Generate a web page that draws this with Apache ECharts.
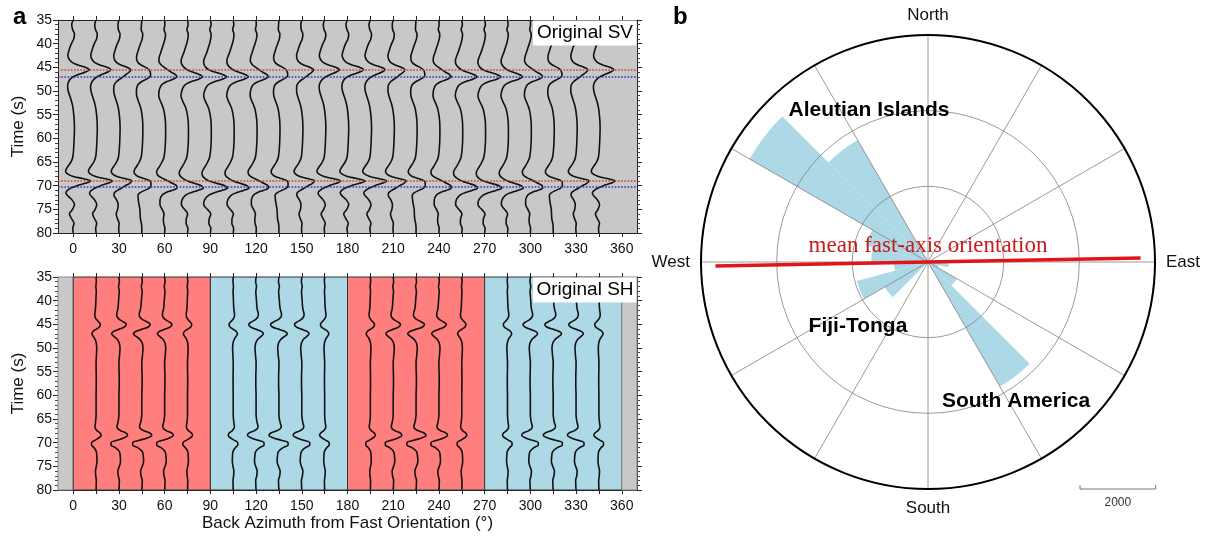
<!DOCTYPE html>
<html>
<head>
<meta charset="utf-8">
<script src="https://cdn.jsdelivr.net/npm/echarts/dist/echarts.min.js"></script>
<style>
  html, body { margin: 0; padding: 0; background: #ffffff; }
  #c { width: 1212px; height: 538px; }
</style>
</head>
<body>
<div id="c"></div>
<script>
// ---------------- DATA ----------------
// time samples (s) shared by all waveform templates
const tGrid = [35,36,37,38,39,40,41,42,42.5,43,43.5,44,44.5,45,45.5,46,46.5,47,47.5,48,48.5,49,50,51,52,53,54,56,58,60,62,64,65,66,66.5,67,67.5,68,68.5,69,69.5,70,70.5,71,71.5,72,73,74,75,76,77,78,79,80];
// SV trace recorded along the fast direction (offset in degrees of back azimuth)
const svFast = [0,-1.0,-0.4,0.8,0.3,-1.2,-2.4,-3.3,
  -3.5,-3.1,-2.2,-0.5,3.0,8.0,10.5,8.0,3.5,0.0,-2.0,-3.0,-3.5,-3.7,
  -3.3,-2.3,-1.3,-0.5,0.0,
  0.6,0.8,0.6,0.3,-0.3,
  -1.5,-3.6,
  -4.6,-5.0,-3.8,-0.5,6.0,11.5,8.0,2.5,-1.5,-3.8,-4.8,-4.0,
  -0.8,0.8,-0.5,-2.5,-1.0,0.5,-0.3,0];
// SV trace recorded along the slow direction
const svSlow = [0,0.5,-0.4,0.5,0.2,-0.5,-1.5,-2.5,
  -3.2,-3.8,-4.3,-4.4,-4.0,-3.0,-1.0,3.0,8.0,10.7,8.0,3.0,-0.5,-2.3,
  -3.8,-4.4,-3.5,-2.0,-0.8,
  0.3,0.6,0.6,0.3,-0.5,
  -1.8,-3.5,
  -4.5,-5.3,-5.5,-5.0,-3.5,-0.8,4.0,9.5,11.3,7.5,2.5,-1.0,
  -3.8,-4.4,-2.0,0.3,-0.8,-1.0,0.3,0];
// SH trace at 45 deg from the fast direction
const shUnit = [0,0.3,-0.3,0.2,0,-0.3,-0.5,-1.0,
  -1.5,-1.7,-1.2,0.5,3.5,5.5,4.5,0.5,-4.0,-5.5,-4.0,-1.8,-0.5,0.3,
  0.8,0.6,0.3,0,0,
  0.2,0.2,0,0,0,
  -0.3,-1.0,
  -1.5,-1.0,1.5,5.5,6.5,3.5,-1.5,-6.0,-6.0,-3.0,-0.8,0.5,
  1.0,1.2,0.3,-0.8,-0.5,0.3,0.2,0];
// back azimuths of traces and relative weights
const traceBaz = [0,15,30,45,60,75,90,105,120,135,150,165,180,195,210,225,240,255,270,285,300,315,330,345];
const svFastWeight = [1,0.93,0.75,0.5,0.25,0.07,0,0.07,0.25,0.5,0.75,0.93,1,0.93,0.75,0.5,0.25,0.07,0,0.07,0.25,0.5,0.75,0.93];
const shWeight = [0,0.5,0.87,1,0.87,0.5,0,-0.5,-0.87,-1,-0.87,-0.5,0,0.5,0.87,1,0.87,0.5,0,-0.5,-0.87,-1,-0.87,-0.5];
// fast / slow arrival times (s)
const fastArrivals = [45.5, 69.0];
const slowArrivals = [47.0, 70.3];
// SH background quadrants
const quadrantEdges = [-10, 0, 90, 180, 270, 360, 370];
const quadrantKind = ['none','fast','slow','fast','slow','none'];
// axis tick labels
const xLabelValues = [0,30,60,90,120,150,180,210,240,270,300,330,360];
const xTickValues = [0,15,30,45,60,75,90,105,120,135,150,165,180,195,210,225,240,255,270,285,300,315,330,345,360];
// rose diagram: 15 deg bins (bearing of bin start) and counts
const roseBins = [0,15,30,45,60,75,90,105,120,135,150,165,180,195,210,225,240,255,270,285,300,315,330,345];
const roseValues = [0,0,0,0,0,0,550,300,880,3800,0,0,0,0,0,1320,1950,900,1500,1700,5450,3720,0,0];
const roseMax = 6000, roseRing = 2000;
const meanFastAxis = 88.9, meanLineLength = 5620;
const compassLabels = {0:'North', 90:'East', 180:'South', 270:'West'};
const regionLabels = [
  {text:'Aleutian Islands', x:869, y:110},
  {text:'Fiji-Tonga', x:858, y:326},
  {text:'South America', x:1016, y:401}
];

// ---------------- STYLE / LAYOUT ----------------
const FONT = '"Liberation Sans", Arial, Helvetica, sans-serif';
const SERIF = '"Liberation Serif", "Times New Roman", serif';
const G0 = {left:58, top:20, width:579, height:213};
const G1 = {left:58, top:277, width:579, height:213};
const POLAR = {cx:928, cy:262, r:227};
const kindColor = {none:'#c8c8c8', fast:'#ff7f7f', slow:'#add8e6'};
const frameColor = '#222';

function xAxisCfg(gridIndex, position, showLabels, name) {
  return {
    gridIndex, type:'value', position, min:-10, max:370,
    axisLine:{show:true, onZero:false, lineStyle:{color:frameColor, width:1}},
    axisTick:{show:true, inside:false, length:4, customValues:xTickValues, lineStyle:{color:frameColor}},
    axisLabel:{show:showLabels, customValues:xLabelValues, fontSize:14, color:'#111', fontFamily:FONT, margin:9},
    splitLine:{show:false},
    name: name || '', nameLocation:'middle', nameGap:25,
    nameTextStyle:{fontSize:17, color:'#111', fontFamily:FONT}
  };
}
function yAxisCfg(gridIndex, position, showLabels, name) {
  return {
    gridIndex, type:'value', position, min:35, max:80, interval:5, inverse:true,
    axisLine:{show:true, onZero:false, lineStyle:{color:frameColor, width:1}},
    axisTick:{show:true, inside:false, length:5, lineStyle:{color:frameColor}},
    minorTick:{show:true, splitNumber:5, length:3, lineStyle:{color:'#444'}},
    axisLabel:{show:showLabels, fontSize:14, color:'#111', fontFamily:FONT, margin:6},
    splitLine:{show:false},
    name: name || '', nameLocation:'middle', nameGap:31, nameRotate:90,
    nameTextStyle:{fontSize:17, color:'#111', fontFamily:FONT}
  };
}

const series = [];
// SH background quadrants
series.push({
  type:'line', xAxisIndex:2, yAxisIndex:2, data:[], z:1, silent:true,
  markArea:{silent:true, data: quadrantKind.map((k,i)=>[
    {xAxis:quadrantEdges[i], itemStyle:{color:kindColor[k], borderColor: k==='none' ? '#888' : '#333', borderWidth:1}},
    {xAxis:quadrantEdges[i+1]}
  ])}
});
// SV fast/slow arrival markers
series.push({
  type:'line', xAxisIndex:0, yAxisIndex:0, data:[[-20,30]], z:2, silent:true, symbol:'none',
  lineStyle:{opacity:0},
  markLine:{silent:true, symbol:'none', label:{show:false},
    data: fastArrivals.map(t=>({yAxis:t, lineStyle:{color:'#d83a3a', type:'dotted', width:1.6}}))
      .concat(slowArrivals.map(t=>({yAxis:t, lineStyle:{color:'#3333c8', type:'dotted', width:1.6}})))
  }
});
traceBaz.forEach((baz,i)=>{
  const w = svFastWeight[i];
  series.push({
    type:'line', xAxisIndex:0, yAxisIndex:0, symbol:'none', smooth:0.35, z:3, silent:true,
    lineStyle:{color:'#111', width:1.6},
    data: tGrid.map((t,k)=>[baz + w*svFast[k] + (1-w)*svSlow[k], t])
  });
  if (shWeight[i] !== 0) {
    series.push({
      type:'line', xAxisIndex:2, yAxisIndex:2, symbol:'none', smooth:0.35, z:3, silent:true,
      lineStyle:{color:'#111', width:1.6},
      data: tGrid.map((t,k)=>[baz + shWeight[i]*shUnit[k], t])
    });
  }
});
// rose petals
series.push({
  type:'bar', coordinateSystem:'polar', polarIndex:1, data: roseValues,
  barCategoryGap:'0%', barGap:'0%', z:1, silent:true,
  itemStyle:{color:'#add8e6'}
});
// mean fast-axis line
series.push({
  type:'line', coordinateSystem:'polar', polarIndex:0, symbol:'none', z:20, silent:true,
  lineStyle:{color:'#e11418', width:3.5},
  data:[[meanLineLength, meanFastAxis+180],[0,0],[meanLineLength, meanFastAxis]]
});

const scaleLen = POLAR.r * roseRing / roseMax;
const graphic = [
  {type:'text', left:13, top:5, z:100, style:{text:'a', font:'bold 24px '+FONT, fill:'#000'}},
  {type:'text', left:673, top:5, z:100, style:{text:'b', font:'bold 24px '+FONT, fill:'#000'}},
  // panel boxes
  {type:'rect', z:100, shape:{x:G0.left+G0.width-104, y:G0.top+0.5, width:103.5, height:25}, style:{fill:'#fff'}},
  {type:'text', z:101, x:G0.left+G0.width-52, y:G0.top+13, style:{text:'Original SV', font:'19px '+FONT, fill:'#000', textAlign:'center', textVerticalAlign:'middle'}},
  {type:'rect', z:100, shape:{x:G1.left+G1.width-104, y:G1.top+0.5, width:103.5, height:25}, style:{fill:'#fff'}},
  {type:'text', z:101, x:G1.left+G1.width-52, y:G1.top+13, style:{text:'Original SH', font:'19px '+FONT, fill:'#000', textAlign:'center', textVerticalAlign:'middle'}},
  // polar annotations
  {type:'text', z:101, x:POLAR.cx, y:246, style:{text:'mean fast-axis orientation', font:'23px '+SERIF, fill:'#c81b1b', textAlign:'center', textVerticalAlign:'middle'}},
  // scale bar
  {type:'polyline', z:100, shape:{points:[[1080,485],[1080,489],[1080+scaleLen,489],[1080+scaleLen,485]]}, style:{stroke:'#777', lineWidth:1, fill:null}},
  {type:'text', z:101, x:1080+scaleLen/2, y:503, style:{text:'2000', font:'12px '+FONT, fill:'#333', textAlign:'center', textVerticalAlign:'middle'}}
].concat(regionLabels.map(r=>({type:'text', z:101, x:r.x, y:r.y, style:{text:r.text, font:'bold 21px '+FONT, fill:'#000', textAlign:'center', textVerticalAlign:'middle'}})));

const option = {
  animation:false,
  backgroundColor:'#ffffff',
  grid:[
    Object.assign({show:true, backgroundColor:'#c8c8c8', borderWidth:0}, G0),
    Object.assign({show:false}, G1)
  ],
  xAxis:[
    xAxisCfg(0,'bottom',true),
    xAxisCfg(0,'top',false),
    xAxisCfg(1,'bottom',true,'Back Azimuth from Fast Orientation (°)'),
    xAxisCfg(1,'top',false)
  ],
  yAxis:[
    yAxisCfg(0,'left',true,'Time (s)'),
    yAxisCfg(0,'right',false),
    yAxisCfg(1,'left',true,'Time (s)'),
    yAxisCfg(1,'right',false)
  ],
  polar:[
    {center:[POLAR.cx, POLAR.cy], radius:POLAR.r},
    {center:[POLAR.cx, POLAR.cy], radius:POLAR.r}
  ],
  angleAxis:[
    {polarIndex:0, type:'value', min:0, max:360, interval:30, startAngle:90, clockwise:true, z:10,
     axisLine:{show:true, lineStyle:{color:'#000', width:2}},
     axisTick:{show:false},
     splitLine:{show:true, lineStyle:{color:'#808080', width:0.8}},
     axisLabel:{show:true, margin:11, fontSize:17, color:'#111', fontFamily:FONT,
       formatter:v=> (v<360 && compassLabels[v]) ? compassLabels[v] : ''}},
    {polarIndex:1, type:'category', data:roseBins.map(String), startAngle:90, clockwise:true, boundaryGap:true,
     axisLine:{show:false}, axisTick:{show:false}, axisLabel:{show:false}, splitLine:{show:false}}
  ],
  radiusAxis:[
    {polarIndex:0, type:'value', min:0, max:roseMax, interval:roseRing, z:10,
     axisLine:{show:false}, axisTick:{show:false}, axisLabel:{show:false},
     splitLine:{show:true, lineStyle:{color:'#808080', width:0.8}}},
    {polarIndex:1, type:'value', min:0, max:roseMax,
     axisLine:{show:false}, axisTick:{show:false}, axisLabel:{show:false}, splitLine:{show:false}}
  ],
  series,
  graphic
};
const chart = echarts.init(document.getElementById('c'));
chart.setOption(option);
</script>
</body>
</html>
